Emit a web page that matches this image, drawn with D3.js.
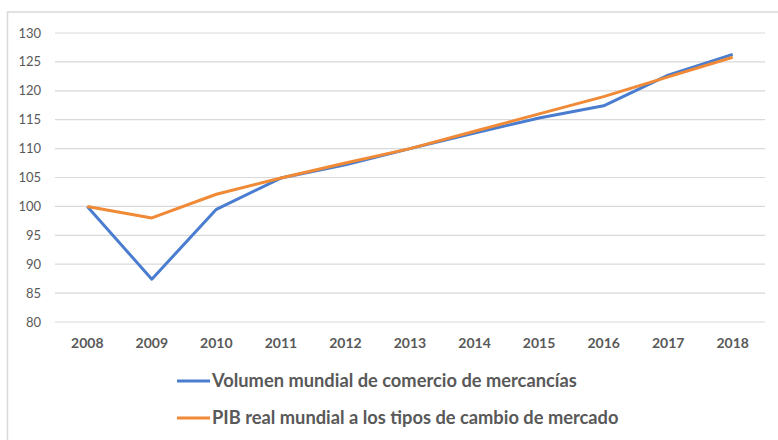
<!DOCTYPE html>
<html><head><meta charset="utf-8">
<script src="https://cdn.jsdelivr.net/npm/d3@7"></script>
<style>body{margin:0;background:#fff}</style>
</head><body>
<svg id="c" width="778" height="440"></svg>
<script>
const years = ["2008","2009","2010","2011","2012","2013","2014","2015","2016","2017","2018"];
const comercio = [100, 87.4, 99.5, 104.9, 107.2, 110.0, 112.7, 115.3, 117.4, 122.7, 126.3];
const pib = [100, 98.0, 102.1, 104.9, 107.5, 110.0, 113.0, 116.0, 119.0, 122.4, 125.8];
const yTicks = [80, 85, 90, 95, 100, 105, 110, 115, 120, 125, 130];
const seriesNames = ["Volumen mundial de comercio de mercancías", "PIB real mundial a los tipos de cambio de mercado"];
const colors = ["#4a7dcf", "#f08a36"];

const svg = d3.select("#c");
const font = "Lato, 'Open Sans', sans-serif";
// outer frame
svg.append("rect").attr("x",7.5).attr("y",12).attr("width",800).attr("height",460)
  .attr("fill","none").attr("stroke","#d9d9d9").attr("stroke-width",1.5);

const x = d3.scaleBand().domain(years).range([55,765]);
const y = d3.scaleLinear().domain([80,130]).range([322,33]);

// gridlines
svg.append("g").selectAll("line").data(yTicks).join("line")
  .attr("x1",55).attr("x2",765).attr("y1",d=>y(d)).attr("y2",d=>y(d))
  .attr("stroke","#d9d9d9").attr("stroke-width",1.2);

// y labels
svg.append("g").selectAll("text").data(yTicks).join("text")
  .attr("x",41).attr("y",d=>y(d)).attr("dy","0.35em").attr("text-anchor","end")
  .attr("font-family",font).attr("font-size",13).attr("fill","#595959").text(d=>d);

// x labels
svg.append("g").selectAll("text").data(years).join("text")
  .attr("x",d=>x(d)+x.bandwidth()/2).attr("y",343).attr("dy","0.35em").attr("text-anchor","middle")
  .attr("font-family",font).attr("font-weight","bold").attr("font-size",14).attr("fill","#595959").text(d=>d);

const line = d3.line().x((d,i)=>x(years[i])+x.bandwidth()/2).y(d=>y(d));
[comercio, pib].forEach((s,i)=>{
  svg.append("path").datum(s).attr("d",line).attr("fill","none")
    .attr("stroke",colors[i]).attr("stroke-width",3).attr("stroke-linejoin","round");
});

// legend
seriesNames.forEach((n,i)=>{
  const ly = 381 + i*37;
  svg.append("line").attr("x1",177).attr("x2",210).attr("y1",ly).attr("y2",ly)
    .attr("stroke",colors[i]).attr("stroke-width",3);
  svg.append("text").attr("x",212).attr("y",ly).attr("dy","0.35em")
    .attr("font-family",font).attr("font-weight","bold").attr("font-size",18.3).attr("fill","#595959").text(n);
});
</script>
</body></html>
